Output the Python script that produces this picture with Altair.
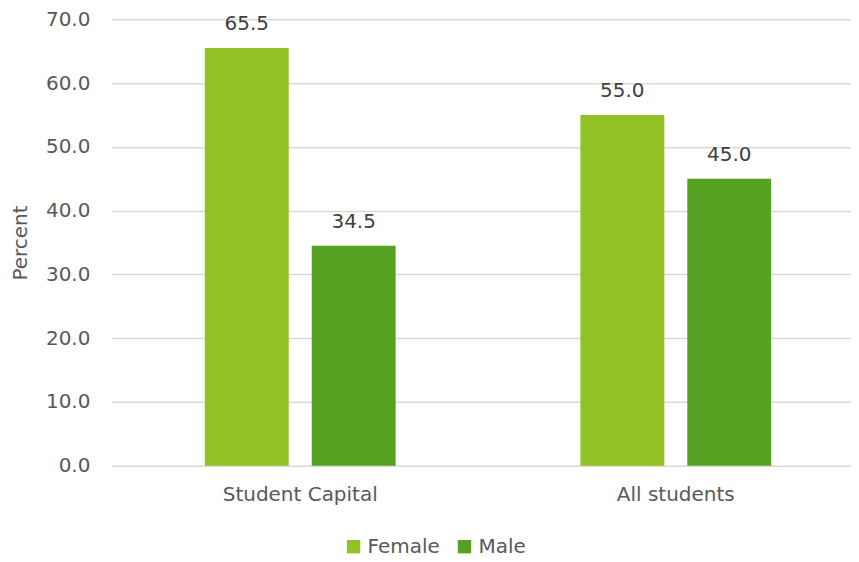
import altair as alt
import pandas as pd

groups = ["Student Capital", "Student Capital", "All students", "All students"]
genders = ["Female", "Male", "Female", "Male"]
values = [65.5, 34.5, 55.0, 45.0]
colors = ["#92c126", "#55a222"]
y_ticks = [0, 10, 20, 30, 40, 50, 60, 70]

df = pd.DataFrame({"group": groups, "gender": genders, "value": values})

FONT = "DejaVu Sans"
GRAY = "#595959"

x = alt.X("group:N", sort=["Student Capital", "All students"], title=None,
          scale=alt.Scale(paddingInner=0.492, paddingOuter=0.23, align=0.538),
          axis=alt.Axis(labelAngle=0, labelFont=FONT, labelFontSize=20, labelColor=GRAY,
                        labelPadding=19, ticks=False, domain=False, grid=False))
xo = alt.XOffset("gender:N", sort=["Female", "Male"],
                 scale=alt.Scale(paddingInner=0.215, paddingOuter=0))
y = alt.Y("value:Q", title="Percent",
          scale=alt.Scale(domain=[0, 70], nice=False),
          axis=alt.Axis(values=y_ticks, format=".1f", labelFont=FONT, labelFontSize=20,
                        labelColor=GRAY, labelPadding=22, ticks=False, domain=False,
                        gridColor="#d9d9d9", gridWidth=1.5,
                        titleFont=FONT, titleFontSize=20, titleColor=GRAY,
                        titleFontWeight="normal", titlePadding=15))

base = alt.Chart(df)
bars = base.mark_bar().encode(
    x=x, xOffset=xo, y=y,
    color=alt.Color("gender:N", sort=["Female", "Male"],
                    scale=alt.Scale(domain=["Female", "Male"], range=colors),
                    legend=alt.Legend(title=None, orient="none", direction="horizontal",
                                      legendX=232, legendY=518,
                                      symbolType="square", symbolSize=180,
                                      labelFont=FONT, labelFontSize=20, labelColor=GRAY,
                                      symbolStrokeWidth=0, columnPadding=14,
                                      labelOffset=4)),
)
labels = base.mark_text(baseline="bottom", dy=-14, font=FONT, fontSize=20, color="#404040").encode(
    x=x, xOffset=xo, y=y,
    text=alt.Text("value:Q", format=".1f"),
)

chart = (bars + labels).properties(
    width=740, height=447,
    autosize=alt.AutoSizeParams(type="none"),
    padding={"left": 104, "top": 11, "right": 0, "bottom": 96},
).configure(background="white").configure_view(stroke=None, strokeWidth=0)

chart.save("out.html", embed_options={"renderer": "svg", "actions": False})
